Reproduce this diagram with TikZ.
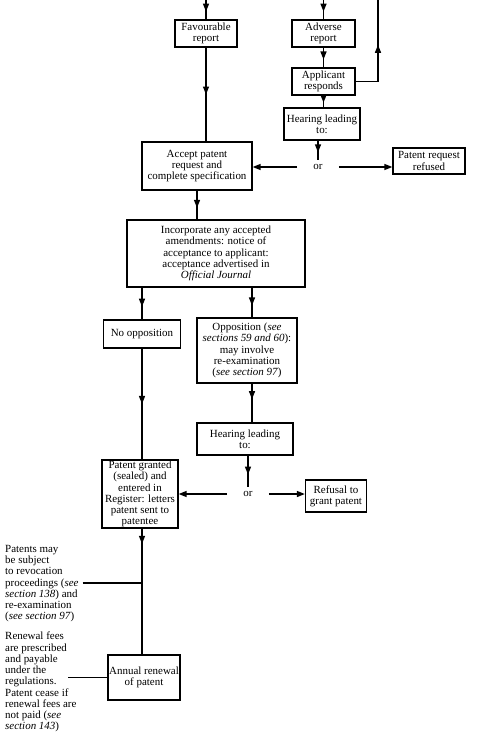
\documentclass[tikz,border=0pt]{standalone}
\usepackage{fontspec}
\setmainfont{Liberation Serif}
\usetikzlibrary{arrows.meta,decorations.markings}
\newcommand\fs{\fontsize{11}{11.3}\selectfont}
\tikzset{
  box/.style={draw, line width=1.3bp, align=center, inner sep=1bp, font=\fs},
  ln/.style={line width=1.4bp},
  midarrow/.style={postaction={decorate}, decoration={markings, mark=at position #1 with {\arrow{Triangle[length=8bp,width=6bp]}}}},
  midarrow/.default=0.5,
  endarrow/.style={-{Triangle[length=8bp,width=6bp]}},
  ortext/.style={font=\fs, inner xsep=16bp, inner ysep=4bp},
  note/.style={font=\fs, align=left, inner sep=0pt, anchor=north west}
}
\begin{document}
\begin{tikzpicture}[x=1bp, y=-1bp]
\useasboundingbox (0,0) rectangle (483,737);
% boxes
\node[box, minimum width=62bp, minimum height=27bp] (fav) at (206,33.5) {Favourable\\report};
\node[box, minimum width=63bp, minimum height=27bp] (adv) at (323.5,33.5) {Adverse\\report};
\node[box, minimum width=63bp, minimum height=27bp] (app) at (323.5,81.5) {Applicant\\responds};
\node[box, minimum width=76bp, minimum height=32bp] (hear1) at (322,124) {Hearing leading\\to:};
\node[ortext] (or1) at (318,167) {or};
\node[box, minimum width=72bp, minimum height=26bp] (refused) at (429,161) {Patent request\\refused};
\node[box, minimum width=110bp, minimum height=48bp] (accept) at (197,166) {Accept patent\\request and\\complete specification};
\node[box, minimum width=178bp, minimum height=67bp] (inc) at (216,253.5) {Incorporate any accepted\\amendments: notice of\\acceptance to applicant:\\acceptance advertised in\\\textit{Official Journal}};
\node[box, minimum width=77bp, minimum height=28bp] (noopp) at (142,334) {No opposition};
\node[box, minimum width=100bp, minimum height=65bp] (opp) at (247,350.5) {Opposition (\textit{see}\\\textit{sections 59 and 60}):\\may involve\\re-examination\\(\textit{see section 97})};
\node[box, minimum width=96bp, minimum height=32bp] (hear2) at (245,439) {Hearing leading\\to:};
\node[ortext] (or2) at (248,494) {or};
\node[box, minimum width=61bp, minimum height=32bp] (refusal) at (336,496) {Refusal to\\grant patent};
\node[box, minimum width=76bp, minimum height=66bp] (granted) at (140,494) {Patent granted\\(sealed) and\\entered in\\Register: letters\\patent sent to\\patentee};
\node[box, minimum width=72bp, minimum height=45bp] (annual) at (144,677.5) {Annual renewal\\of patent};
% notes
\node[note] (rev) at (5,545) {Patents may\\be subject\\to revocation\\proceedings (\textit{see}\\\textit{section 138}) and\\re-examination\\(\textit{see section 97})};
\node[note] (ren) at (5,632) {Renewal fees\\are prescribed\\and payable\\under the\\regulations.\\Patent cease if\\renewal fees are\\not paid (\textit{see}\\\textit{section 143})};
% coordinates
\coordinate (t1) at (206,0);
\coordinate (t2) at (323.5,0);
\coordinate (r1) at (378,81.5);
\coordinate (r0) at (378,0);
\coordinate (j1) at (142,583);
\coordinate (j2) at (68,677.5);
% connectors
\draw[ln, midarrow=0.6] (t1) -- (fav.north);
\draw[ln, midarrow=0.6] (t2) -- (adv.north);
\draw[ln, midarrow] (fav.south) -- (fav.south |- accept.north);
\draw[ln, midarrow=0.6] (adv.south) -- (app.north);
\draw[ln] (app.east) -- (r1);
\draw[ln, midarrow=0.45] (r1) -- (r0);
\draw[ln, midarrow=0.6] (app.south) -- (app.south |- hear1.north);
\draw[ln, midarrow=0.6] (hear1.south -| or1) -- (or1.north);
\draw[ln, endarrow] (or1.west) -- (or1.west -| accept.east);
\draw[ln, endarrow] (or1.east) -- (or1.east -| refused.west);
\draw[ln, midarrow=0.6] (accept.south) -- (accept.south |- inc.north);
\draw[ln, midarrow=0.6] (noopp.north |- inc.south) -- (noopp.north);
\draw[ln, midarrow=0.6] ([xshift=5bp]opp.north |- inc.south) -- ([xshift=5bp]opp.north);
\draw[ln, midarrow] (noopp.south) -- (noopp.south |- granted.north);
\draw[ln, midarrow=0.4] ([xshift=5bp]opp.south) -- ([xshift=5bp]opp.south |- hear2.north);
\draw[ln, midarrow=0.6] (hear2.south -| or2) -- (or2.north);
\draw[ln, endarrow] (or2.west) -- (or2.west -| granted.east);
\draw[ln, endarrow] (or2.east) -- (or2.east -| refusal.west);
\draw[ln, midarrow=0.12] (granted.south -| j1) -- (j1 |- annual.north);
\draw[ln] ([xshift=4bp]rev.east |- j1) -- (j1);
\draw[ln] (j2) -- (annual.west);
\end{tikzpicture}
\end{document}
